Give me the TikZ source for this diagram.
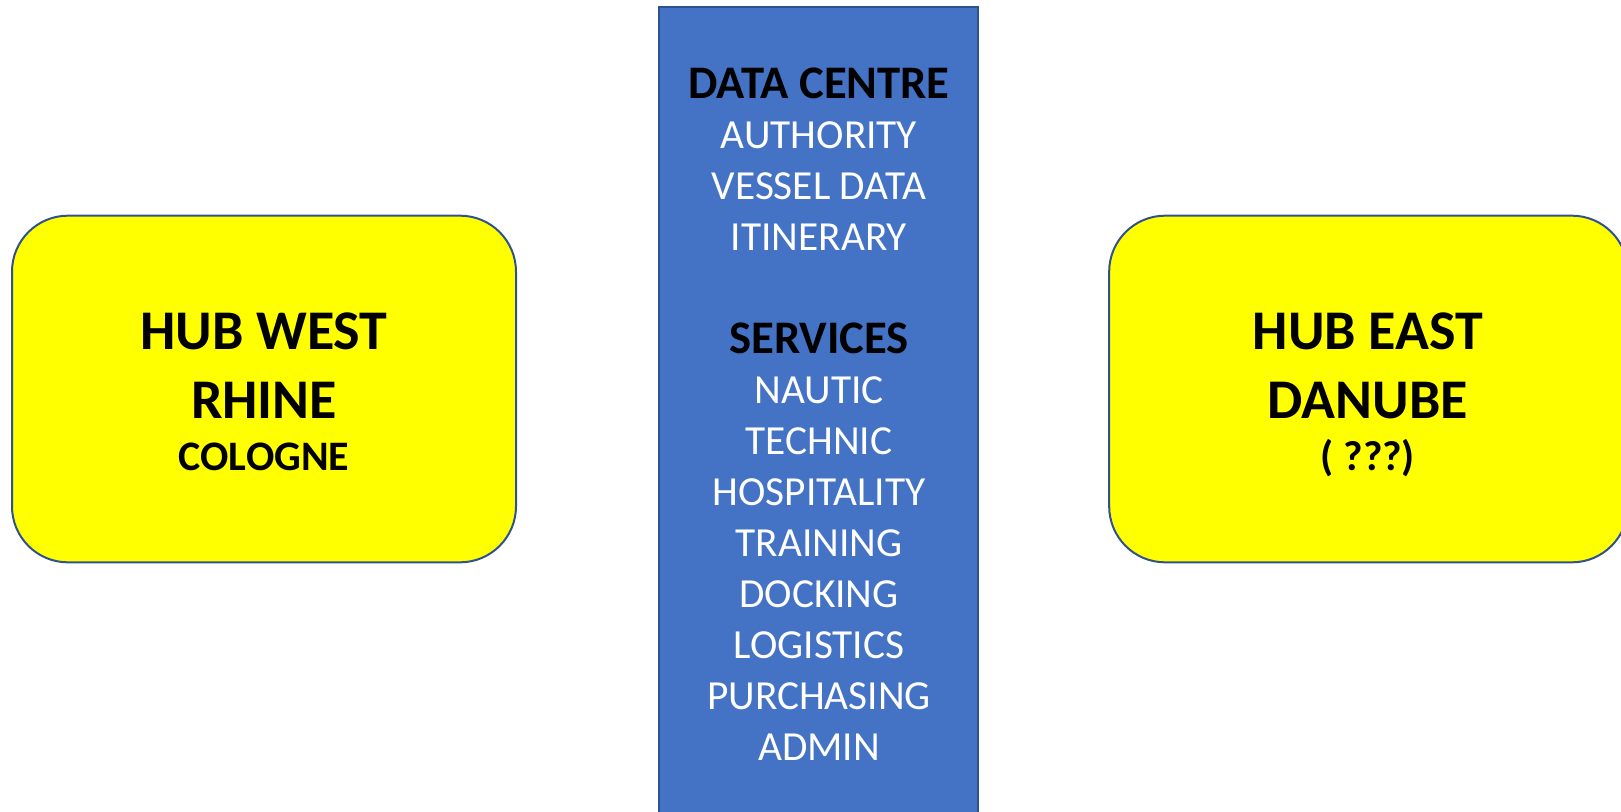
\documentclass[tikz,border=0pt]{standalone}
\usepackage[svgnames]{xcolor}
\usepackage{fontspec}
\setmainfont{Carlito}
\colorlet{hubfill}{Yellow}
\definecolor{dcfill}{HTML}{4472C4}
\definecolor{edge}{HTML}{2F528F}

\begin{document}
\begin{tikzpicture}[
  x=0.75pt, y=-0.75pt,
  hub/.style={draw=edge, line width=1.5pt, fill=hubfill, rounded corners=42pt, minimum height=260pt},
  centre box/.style={draw=edge, line width=1.5pt, fill=dcfill, minimum width=239pt, minimum height=606pt},
  hub big/.style={anchor=base, font=\fontsize{42}{50}\selectfont\bfseries},
  hub small/.style={anchor=base, font=\fontsize{31.5}{38}\selectfont\bfseries},
  head/.style={anchor=base, font=\fontsize{35}{42}\selectfont\bfseries},
  item/.style={anchor=base, text=white, font=\fontsize{31}{38}\selectfont},
]
\useasboundingbox (0,0) rectangle (1621,811);
\clip (0,0) rectangle (1621,811);

% hubs
\node[hub, minimum width=378pt] (west) at (264,389) {};
\node[hub, minimum width=389pt] (east) at (1368.5,389) {};
\node[hub big] (west-1) at (264,349) {HUB WEST};
\node[hub big] (west-2) at (264,418) {RHINE};
\node[hub small] (west-3) at (264,470) {COLOGNE};
\node[hub big] (east-1) at (1368,349) {HUB EAST};
\node[hub big] (east-2) at (1368,418) {DANUBE};
\node[hub small] (east-3) at (1368,470) {( ???)};

% data centre column
\node[centre box] (dc) at (818.5,411) {};
\node[head] (dc-head) at (819,98) {DATA CENTRE};
\foreach \k/\txt in {1/AUTHORITY,2/VESSEL DATA,3/ITINERARY}
  \node[item] (dc-\k) at (819,{97+51.07*\k}) {\txt};
\node[head] (svc-head) at (819,{98+51.07*5}) {SERVICES};
\foreach \k/\txt in {6/NAUTIC,7/TECHNIC,8/HOSPITALITY,9/TRAINING,10/DOCKING,11/LOGISTICS,12/PURCHASING,13/ADMIN}
  \node[item] (svc-\k) at (819,{97+51.07*\k}) {\txt};
\end{tikzpicture}
\end{document}
